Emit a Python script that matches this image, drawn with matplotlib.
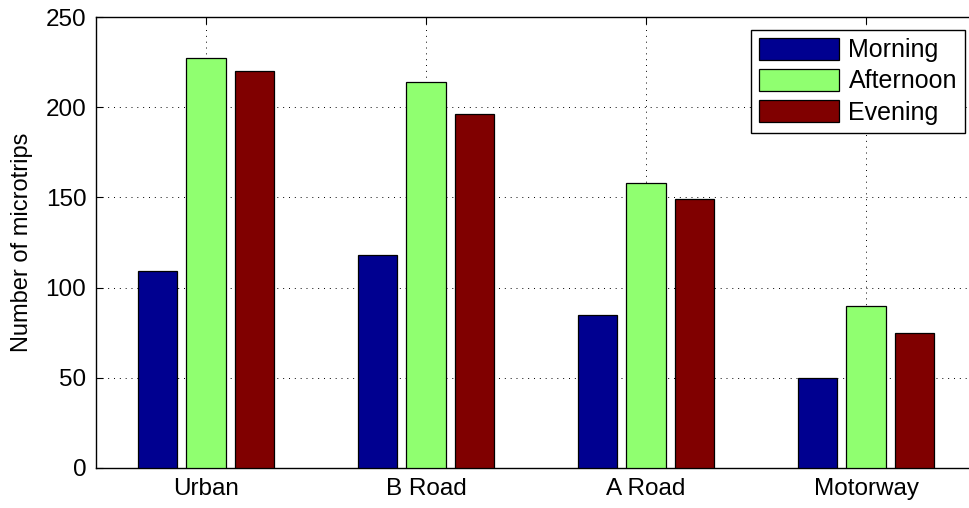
import numpy as np
import matplotlib.pyplot as plt

# microtrip counts per road type and time of day
road_types = ["Urban", "B Road", "A Road", "Motorway"]
periods = ["Morning", "Afternoon", "Evening"]
morning = [109, 118, 85, 50]
afternoon = [227, 214, 158, 90]
evening = [220, 196, 149, 75]
y_ticks = [0, 50, 100, 150, 200, 250]

colors = ["#000090", "#90FF70", "#800000"]

plt.rcParams["font.family"] = ["Liberation Sans", "DejaVu Sans"]

fig = plt.figure(figsize=(9.69, 5.08), dpi=100)
ax = fig.add_axes([96 / 969, 40 / 508, 880 / 969, 451 / 508])

x = np.arange(1, len(road_types) + 1)
group = 2 / 3
step = group / 3
width = step * 0.8
for i, (vals, lab, col) in enumerate(zip([morning, afternoon, evening], periods, colors)):
    ax.bar(x + (i - 1) * step, vals, width, color=col, edgecolor="black",
           linewidth=0.9, label=lab, zorder=3)

ax.set_xlim(0.5, 4.5)
ax.set_ylim(0, 250)
ax.set_xticks(x)
ax.set_xticklabels(road_types)
ax.set_yticks(y_ticks)
ax.tick_params(direction="in", length=5, width=0.8, labelsize=17.5,
               top=True, right=True, pad=7)
ax.grid(True, color="black", linestyle=(0, (1, 5)), linewidth=0.7, zorder=0)
for s in ax.spines.values():
    s.set_linewidth(1.0)
ax.set_ylabel("Number of microtrips", fontsize=17, labelpad=9)

leg = ax.legend(loc="upper right", bbox_to_anchor=(965 / 969, 1 - 30 / 508),
                bbox_transform=fig.transFigure, fontsize=18, fancybox=False,
                framealpha=1, edgecolor="black", borderaxespad=0,
                handlelength=3.2, handleheight=0.95, handletextpad=0.4,
                labelspacing=0.27, borderpad=0.32)
leg.get_frame().set_linewidth(1.0)

fig.savefig("out.png", dpi=100)
